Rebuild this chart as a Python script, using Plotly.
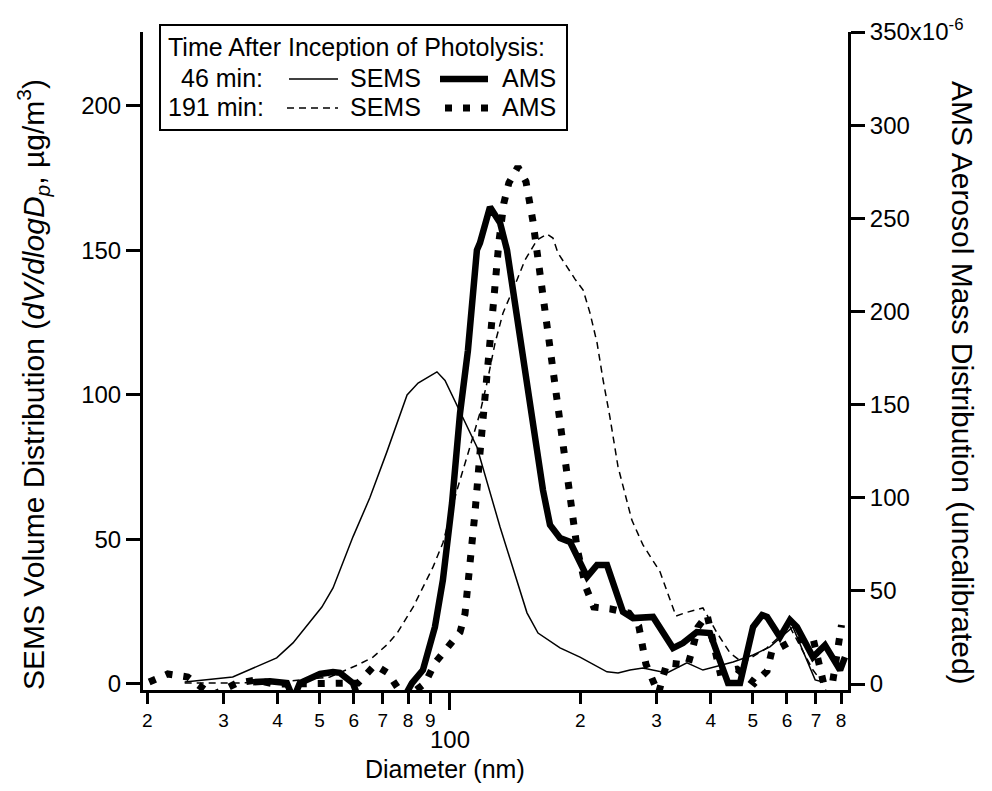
import math
import plotly.graph_objects as go

# ---------------- data ----------------
# SEMS volume distribution, 46 min (left axis, ug/m3)
sems46_x = [24.4, 31.5, 39.8, 43.4, 50.6, 53.7, 59.7, 65.3, 71.5, 79.6, 84.4, 93.3, 97.4,
            115.4, 130.5, 150.6, 159.7, 179.5, 199.6, 230.4, 244.4, 260.4, 279, 317, 352.5,
            383.8, 450.5, 501, 548, 619, 697, 727]
sems46_y = [0.7, 2.4, 9.0, 14.2, 26.6, 33.2, 50.9, 64.4, 80.3, 100, 104.1, 108, 105,
            82, 54.3, 24.6, 17.6, 12.5, 9.3, 4.2, 3.8, 4.8, 5.5, 3.8, 7.3,
            4.8, 7.6, 10, 12.8, 19.7, 1.4, 0.7]

# SEMS volume distribution, 191 min (left axis)
sems191_x = [24.4, 32.2, 42.7, 52.8, 61.3, 66.4, 71.5, 75.5, 82.2, 86.6, 91.4, 96.3, 103.8,
             111.2, 117.3, 121.7, 127.1, 132.6, 137.6, 142.8, 149, 158.8, 167.5, 172.9, 177.6,
             186.2, 194.4, 203, 210.5, 218.6, 225.7, 234, 244.4, 263, 279, 305.5, 332.5,
             348.8, 383.8, 413.9, 443.3, 475.3, 539.8, 609.6, 689, 722.5]
sems191_y = [0.3, 0.3, 1.0, 2.4, 6.6, 9.3, 13.5, 17.6, 26.6, 33.6, 40.5, 48.8, 67.1,
             82, 93.8, 104.1, 118, 128.4, 133.9, 139.8, 146.7, 153.6, 155.7, 154.3, 149.1,
             144.3, 140.1, 136.3, 128.4, 118, 105.2, 92.4, 75.1, 56.7, 48.1, 38.8, 23.5,
             24.6, 26.3, 17.6, 10.7, 7.3, 12.5, 19.7, 4.8, 0.7]

# AMS mass distribution, 46 min (right axis, x10^-6)
ams46_x = [35.1, 38.4, 42.0, 43.5, 45.0, 50.1, 53.7, 55.7, 59.7, 62, 70, 78, 81.7, 86.6,
           92.3, 96.3, 101.1, 105.5, 110, 115.4, 117.3, 123.7, 130.5, 135.4, 158.8, 164,
           170.2, 179.5, 189.3, 207.3, 218.6, 230.4, 250.9, 264.6, 294.4, 305.5, 327.3,
           345.2, 371.6, 398.3, 420.3, 438.6, 467.5, 501, 525.6, 539.8, 578, 609.6, 632.5,
           689, 734.5, 774.5, 795.8, 816.6]
ams46_y = [1, 1.5, 0.5, -8, 0.5, 5.4, 6.4, 6, 0.5, -10, -15, -8, 0.5, 7.5,
           30.6, 55.8, 97.2, 145.5, 179, 233, 236.8, 256, 247.6, 233, 125.7, 104,
           85.4, 78.4, 76.3, 57.5, 63.9, 63.9, 38.7, 35.4, 36, 30.6, 19.3,
           22, 27.9, 27.4, 12.9, 0.5, 0.5, 30.6, 37, 36, 25.2, 34.4, 30.6,
           14.5, 20.9, 11.3, 7.5, 14.5]

# AMS mass distribution, 191 min (right axis, x10^-6)
ams191_x = [20.2, 22.3, 24.8, 28.2, 32.2, 35.5, 39.4, 45.8, 52, 61.3, 67.1, 71.9, 78.7,
            87.6, 92.3, 100, 105.5, 108.3, 111.2, 114.2, 117.3, 120.4, 123, 126.3, 129.8,
            133.2, 136.8, 143.5, 149.8, 155.4, 159.7, 164, 168.5, 172.9, 177.6, 182.4,
            188.3, 194.4, 196.5, 205.9, 214.8, 235.1, 259.1, 272.9, 283.4, 295.8, 303,
            316.8, 354.3, 364.1, 373.8, 392.4, 420.3, 460.2, 484.4, 505.2, 539.8, 553,
            603.9, 637.3, 689, 722.5, 740, 764.3, 801.8]
ams191_y = [1.1, 5.4, 3.8, -6, 0.5, 2.1, 0, 0, 0.5, 0.5, 10.2, 5.9, -8,
            0.5, 11.3, 20.9, 27.9, 37.6, 61.2, 91.8, 124, 154, 185.8, 216.4, 237.9,
            258.3, 269, 277.6, 269.6, 248.6, 228.2, 207.8, 186.3, 165.4, 145, 124.6,
            103.6, 83.2, 73, 52.1, 41.3, 40.3, 38.1, 31.1, 10.7, 0.5, -5,
            11.3, 10.2, 19.9, 30.6, 37.1, 6.4, 8, 3.2, 0.5, 7, 17.2,
            22, 23.6, 24.7, 3.8, -6, 0.5, 31.7]

# tick definitions
x_minor_vals = [20, 30, 40, 50, 60, 70, 80, 90, 200, 300, 400, 500, 600, 700, 800]
x_minor_text = ["2", "3", "4", "5", "6", "7", "8", "9", "2", "3", "4", "5", "6", "7", "8"]
x_major_vals = [100]
x_major_text = ["100"]
yl_vals = [0, 50, 100, 150, 200]
yr_vals = [0, 50, 100, 150, 200, 250, 300, 350]
yr_text = ["0", "50", "100", "150", "200", "250", "300", "350x10<sup>-6</sup>"]
yr_scale = 1e-6

# ---------------- geometry ----------------
W, H = 992, 791
L, R, T, B = 143, 848, 32, 690
FONT = "Arial, Liberation Sans, sans-serif"


def px_x(px):
    return (px - L) / (R - L)


def px_y(py):
    return (B - py) / (B - T)


xr = [math.log10(19.55), math.log10(830)]

fig = go.Figure()
# SEMS 46 is drawn on the overlay x axis (identical range) so that axis is rendered
fig.add_trace(go.Scatter(x=sems46_x, y=sems46_y, mode="lines", xaxis="x2",
                         line=dict(color="black", width=1.5), showlegend=False))
fig.add_trace(go.Scatter(x=sems191_x, y=sems191_y, mode="lines",
                         line=dict(color="black", width=1.5, dash="7px,5px"), showlegend=False))
fig.add_trace(go.Scatter(x=ams46_x, y=[v * yr_scale for v in ams46_y], mode="lines", yaxis="y2",
                         line=dict(color="black", width=6.5), showlegend=False))
fig.add_trace(go.Scatter(x=ams191_x, y=[v * yr_scale for v in ams191_y], mode="lines", yaxis="y2",
                         line=dict(color="black", width=7, dash="7px,11px"), showlegend=False))

axis_common = dict(showgrid=False, zeroline=False, ticks="outside", tickwidth=2.5,
                   tickcolor="black", linecolor="black", linewidth=3)

fig.update_layout(
    width=W, height=H,
    margin=dict(l=L, r=W - R, t=T, b=H - B, pad=0),
    plot_bgcolor="white", paper_bgcolor="white",
    showlegend=False,
    font=dict(family=FONT, color="black"),
    xaxis=dict(type="log", range=xr, tickmode="array", tickvals=x_minor_vals,
               ticktext=x_minor_text, ticklen=11, showline=True,
               tickfont=dict(size=19), **axis_common),
    xaxis2=dict(type="log", range=xr, overlaying="x", anchor="y", side="bottom",
                tickmode="array", tickvals=x_major_vals, ticktext=x_major_text,
                ticklen=19, showline=False, tickfont=dict(size=24), ticklabelstandoff=9,
                showgrid=False, zeroline=False, ticks="outside", tickwidth=2.5, tickcolor="black"),
    yaxis=dict(range=[-2.1, 225.6], tickmode="array", tickvals=yl_vals, ticklen=14,
               showline=True, tickfont=dict(size=24), **axis_common),
    yaxis2=dict(range=[-3.2e-6, 350e-6], overlaying="y", side="right", anchor="x",
                tickmode="array", tickvals=[v * yr_scale for v in yr_vals], ticktext=yr_text,
                ticklen=14, showline=True, tickfont=dict(size=24), **axis_common),
)

annotations = [
    dict(text="SEMS Volume Distribution (<i>dV/dlogD</i><sub><i>p</i></sub>, µg/m<sup>3</sup>)",
         x=px_x(33), y=px_y(385), xref="paper", yref="paper", textangle=-90,
         showarrow=False, font=dict(size=30), xanchor="center", yanchor="middle"),
    dict(text="AMS Aerosol Mass Distribution (uncalibrated)",
         x=px_x(963), y=px_y(383), xref="paper", yref="paper", textangle=90,
         showarrow=False, font=dict(size=30), xanchor="center", yanchor="middle"),
    dict(text="Diameter (nm)", x=px_x(445), y=px_y(769), xref="paper", yref="paper",
         showarrow=False, font=dict(size=25), xanchor="center", yanchor="middle"),
    # legend text
    dict(text="Time After Inception of Photolysis:", x=px_x(166), y=px_y(47), xref="paper",
         yref="paper", showarrow=False, font=dict(size=25), xanchor="left", yanchor="middle"),
    dict(text="46 min:", x=px_x(179), y=px_y(78), xref="paper", yref="paper", showarrow=False,
         font=dict(size=25), xanchor="left", yanchor="middle"),
    dict(text="191 min:", x=px_x(166), y=px_y(107), xref="paper", yref="paper", showarrow=False,
         font=dict(size=25), xanchor="left", yanchor="middle"),
    dict(text="SEMS", x=px_x(348), y=px_y(78), xref="paper", yref="paper", showarrow=False,
         font=dict(size=25), xanchor="left", yanchor="middle"),
    dict(text="SEMS", x=px_x(348), y=px_y(107), xref="paper", yref="paper", showarrow=False,
         font=dict(size=25), xanchor="left", yanchor="middle"),
    dict(text="AMS", x=px_x(558), y=px_y(78), xref="paper", yref="paper", showarrow=False,
         font=dict(size=25), xanchor="right", yanchor="middle"),
    dict(text="AMS", x=px_x(558), y=px_y(107), xref="paper", yref="paper", showarrow=False,
         font=dict(size=25), xanchor="right", yanchor="middle"),
]
fig.update_layout(annotations=annotations)

shapes = [
    dict(type="rect", xref="paper", yref="paper", x0=px_x(160), x1=px_x(567),
         y0=px_y(130), y1=px_y(25), line=dict(color="black", width=2), fillcolor="white",
         layer="above"),
    dict(type="line", xref="paper", yref="paper", x0=px_x(289), x1=px_x(338),
         y0=px_y(79), y1=px_y(79), line=dict(color="black", width=1.5)),
    dict(type="line", xref="paper", yref="paper", x0=px_x(440), x1=px_x(488),
         y0=px_y(79), y1=px_y(79), line=dict(color="black", width=6.5)),
    dict(type="line", xref="paper", yref="paper", x0=px_x(287), x1=px_x(338),
         y0=px_y(108), y1=px_y(108), line=dict(color="black", width=1.5, dash="7px,5px")),
    dict(type="line", xref="paper", yref="paper", x0=px_x(445), x1=px_x(491),
         y0=px_y(108), y1=px_y(108), line=dict(color="black", width=7, dash="7px,11px")),
]
fig.update_layout(shapes=shapes)

fig.write_html("out.html")
